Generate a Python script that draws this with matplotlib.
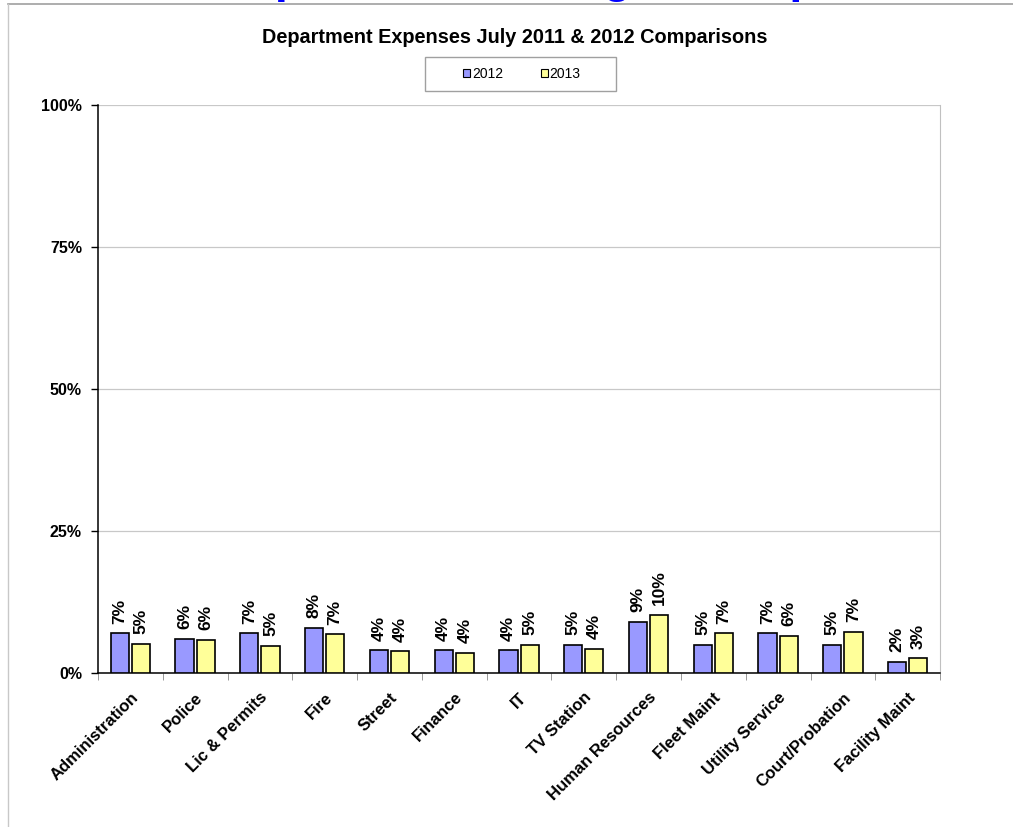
import numpy as np
import matplotlib
matplotlib.use("Agg")
import matplotlib.pyplot as plt
from matplotlib.lines import Line2D
from matplotlib.patches import Rectangle

plt.rcParams['font.family'] = ['Liberation Sans', 'DejaVu Sans']

# 部門別支出の比率（%）
departments = ['Administration', 'Police', 'Lic & Permits', 'Fire', 'Street',
               'Finance', 'IT', 'TV Station', 'Human Resources', 'Fleet Maint',
               'Utility Service', 'Court/Probation', 'Facility Maint']
pct_2012 = [7.0, 6.0, 7.0, 7.9, 4.0, 4.0, 4.0, 5.0, 9.0, 5.0, 7.0, 5.0, 1.9]
pct_2013 = [5.1, 5.8, 4.75, 6.8, 3.8, 3.6, 4.9, 4.2, 10.2, 7.0, 6.5, 7.2, 2.6]
series_names = ['2012', '2013']
yticks = [0, 25, 50, 75, 100]

blue = '#9999FF'
yellow = '#FFFF99'

fig = plt.figure(figsize=(10.13, 8.27), dpi=100)
ax = fig.add_axes([0.0967, 0.1862, 0.8313, 0.6868])

x = np.arange(len(departments))
w = 0.28
off = 0.163
b1 = ax.bar(x - off, pct_2012, w, color=blue, edgecolor='black', linewidth=1.2, zorder=3)
b2 = ax.bar(x + off, pct_2013, w, color=yellow, edgecolor='black', linewidth=1.2, zorder=3)

# 値ラベル（縦書き）
for bars, vals in ((b1, pct_2012), (b2, pct_2013)):
    for r, v in zip(bars, vals):
        ax.annotate(f'{v:.0f}%', (r.get_x() + r.get_width() / 2, v),
                    xytext=(0, 7), textcoords='offset points',
                    rotation=90, ha='center', va='bottom',
                    fontsize=12.5, fontweight='bold')

ax.set_xlim(-0.5, len(departments) - 0.5)
ax.set_ylim(0, 100)
ax.set_yticks(yticks)
ax.set_yticklabels([f'{t}%' for t in yticks], fontsize=11.5, fontweight='bold')
ax.yaxis.grid(True, color='#C8C8C8', linewidth=0.9, zorder=0)
ax.tick_params(axis='y', direction='out', length=5, width=1, pad=6.5)

ax.set_xticks(x)
ax.set_xticklabels(departments, rotation=45, ha='right', rotation_mode='anchor',
                   fontsize=12, fontweight='bold')
ax.set_xticks(np.arange(-0.5, len(departments)), minor=True)
ax.tick_params(axis='x', which='major', length=0, pad=12)
ax.tick_params(axis='x', which='minor', direction='out', length=5, color='#888888')

ax.spines['top'].set_visible(False)
ax.spines['right'].set_color('#C0C0C0')
ax.spines['left'].set_linewidth(1.1)
ax.spines['bottom'].set_linewidth(1.1)

fig.text(0.508, 0.955, 'Department Expenses July 2011 & 2012 Comparisons',
         ha='center', va='center', fontsize=14.3, fontweight='bold')

# 凡例
fig.patches.append(Rectangle((425 / 1013, 1 - 91 / 827), 191 / 1013, 34 / 827,
                             transform=fig.transFigure, facecolor='white',
                             edgecolor='#A0A0A0', linewidth=1))
handles = [Rectangle((0, 0), 1, 1, facecolor=c, edgecolor='black', linewidth=0.8)
           for c in (blue, yellow)]
fig.legend(handles, series_names, loc='center', bbox_to_anchor=(0.515, 1 - 74 / 827),
           ncol=2, frameon=False, fontsize=10, handlelength=0.55, handleheight=0.55,
           handletextpad=0.1, columnspacing=2.7)

# 外枠
fig.add_artist(Line2D([8 / 1013, 1], [1 - 3.5 / 827] * 2, transform=fig.transFigure,
                      color='#A0A0A0', linewidth=1.2))
fig.add_artist(Line2D([8 / 1013] * 2, [0, 1 - 3.5 / 827], transform=fig.transFigure,
                      color='#C8C8C8', linewidth=1.0))

# ページ見出し（上端で切れている）
fig.text(218 / 1013, 1 + 8 / 827, 'Expenses vs Budget Comparison', ha='left',
         va='baseline', fontsize=33.5, fontweight='bold', color='#0000FF', zorder=5)

fig.savefig('out.png', dpi=100)
